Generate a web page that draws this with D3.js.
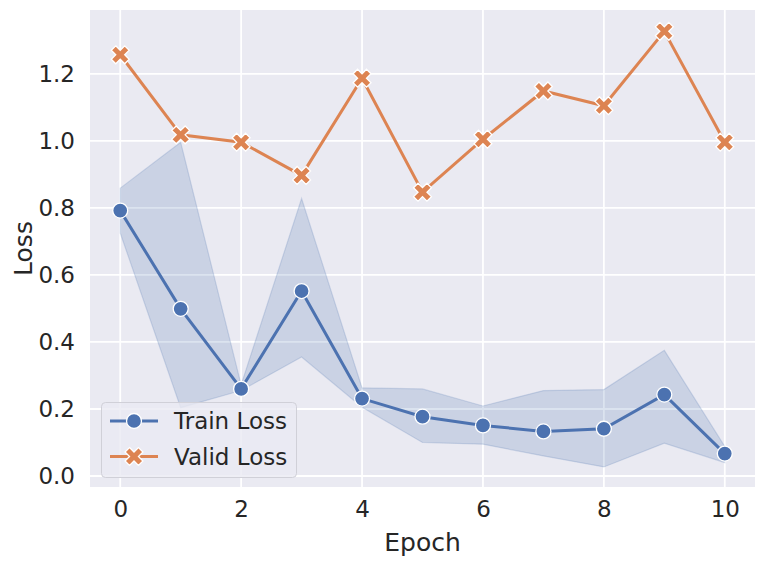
<!DOCTYPE html>
<html>
<head>
<meta charset="utf-8">
<script src="https://cdn.jsdelivr.net/npm/d3@7"></script>
<style>
  html, body { margin: 0; padding: 0; background: #ffffff; }
  svg { display: block; }
  text { font-family: "DejaVu Sans", sans-serif; fill: #262626; }
</style>
</head>
<body>
<div id="chart"></div>
<script>
// ---- data ----
const epochs = [0, 1, 2, 3, 4, 5, 6, 7, 8, 9, 10];
const trainLoss = [0.792, 0.499, 0.260, 0.552, 0.231, 0.177, 0.151, 0.133, 0.141, 0.243, 0.067];
const trainUpper = [0.859, 0.996, 0.272, 0.828, 0.263, 0.260, 0.209, 0.255, 0.258, 0.375, 0.088];
const trainLower = [0.725, 0.204, 0.255, 0.355, 0.205, 0.100, 0.095, 0.060, 0.027, 0.098, 0.040];
const validLoss = [1.257, 1.018, 0.996, 0.897, 1.187, 0.847, 1.005, 1.149, 1.105, 1.327, 0.996];
const xTicks = [0, 2, 4, 6, 8, 10];
const yTicks = [0.0, 0.2, 0.4, 0.6, 0.8, 1.0, 1.2];
const seriesNames = ["Train Loss", "Valid Loss"];
const colors = ["#4C72B0", "#DD8452"];

// ---- layout ----
const W = 766, H = 565;
const plot = { left: 90, right: 755, top: 10, bottom: 487 };

const svg = d3.select("#chart").append("svg").attr("width", W).attr("height", H);

const x = d3.scaleLinear().domain([-0.5, 10.5]).range([plot.left, plot.right]);
const y = d3.scaleLinear().domain([-0.0328, 1.3906]).range([plot.bottom, plot.top]);

// background
svg.append("rect")
  .attr("x", plot.left).attr("y", plot.top)
  .attr("width", plot.right - plot.left).attr("height", plot.bottom - plot.top)
  .attr("fill", "#EAEAF2");

// grid
const grid = svg.append("g");
grid.selectAll("line.gx").data(xTicks).join("line")
  .attr("x1", d => x(d)).attr("x2", d => x(d))
  .attr("y1", plot.top).attr("y2", plot.bottom)
  .attr("stroke", "#ffffff").attr("stroke-width", 1.8);
grid.selectAll("line.gy").data(yTicks).join("line")
  .attr("x1", plot.left).attr("x2", plot.right)
  .attr("y1", d => y(d)).attr("y2", d => y(d))
  .attr("stroke", "#ffffff").attr("stroke-width", 1.8);

// axes (labels only, no tick lines / domain)
const xAxis = d3.axisBottom(x).tickValues(xTicks).tickFormat(d3.format("d")).tickSize(0).tickPadding(14);
const gx = svg.append("g").attr("transform", `translate(0,${plot.bottom})`).call(xAxis);
gx.select(".domain").remove();
gx.selectAll("text").style("font-size", "23px").style("font-family", "DejaVu Sans").attr("fill", "#262626");

const yAxis = d3.axisLeft(y).tickValues(yTicks).tickFormat(d3.format(".1f")).tickSize(0).tickPadding(15);
const gy = svg.append("g").attr("transform", `translate(${plot.left},0)`).call(yAxis);
gy.select(".domain").remove();
gy.selectAll("text").style("font-size", "23px").style("font-family", "DejaVu Sans").attr("fill", "#262626");

// axis titles
svg.append("text")
  .attr("x", (plot.left + plot.right) / 2).attr("y", 551)
  .attr("text-anchor", "middle").style("font-size", "25px")
  .text("Epoch");
svg.append("text")
  .attr("transform", `translate(32,${(plot.top + plot.bottom) / 2}) rotate(-90)`)
  .attr("text-anchor", "middle").style("font-size", "25px")
  .text("Loss");

const plotG = svg.append("g");

// confidence band
const bandData = epochs.map((e, i) => ({ e, lo: trainLower[i], hi: trainUpper[i] }));
plotG.append("path")
  .datum(bandData)
  .attr("d", d3.area().x(d => x(d.e)).y0(d => y(d.lo)).y1(d => y(d.hi)))
  .attr("fill", colors[0]).attr("fill-opacity", 0.2)
  .attr("stroke", colors[0]).attr("stroke-opacity", 0.2).attr("stroke-width", 1.2);

const line = d3.line().x(d => x(d.e)).y(d => y(d.v));
const trainPts = epochs.map((e, i) => ({ e, v: trainLoss[i] }));
const validPts = epochs.map((e, i) => ({ e, v: validLoss[i] }));

plotG.append("path").datum(trainPts).attr("d", line)
  .attr("fill", "none").attr("stroke", colors[0]).attr("stroke-width", 3);
plotG.append("path").datum(validPts).attr("d", line)
  .attr("fill", "none").attr("stroke", colors[1]).attr("stroke-width", 3);

const xSym = d3.symbol().type(d3.symbolCross).size(200);

plotG.selectAll("circle.tr").data(trainPts).join("circle")
  .attr("cx", d => x(d.e)).attr("cy", d => y(d.v)).attr("r", 7.5)
  .attr("fill", colors[0]).attr("stroke", "#ffffff").attr("stroke-width", 1.3);

plotG.selectAll("path.va").data(validPts).join("path")
  .attr("d", xSym)
  .attr("transform", d => `translate(${x(d.e)},${y(d.v)}) rotate(45)`)
  .attr("fill", colors[1]).attr("stroke", "#ffffff").attr("stroke-width", 1.3);

// legend
const lg = svg.append("g");
lg.append("rect")
  .attr("x", 101.5).attr("y", 402.5).attr("width", 195).attr("height", 75).attr("rx", 4)
  .attr("fill", "#EAEAF2").attr("fill-opacity", 0.8)
  .attr("stroke", "#D0D0D8").attr("stroke-width", 1);

const rows = [421, 456.5];
seriesNames.forEach((name, i) => {
  const ry = rows[i];
  lg.append("line").attr("x1", 110).attr("x2", 158).attr("y1", ry).attr("y2", ry)
    .attr("stroke", colors[i]).attr("stroke-width", 3);
  if (i === 0) {
    lg.append("circle").attr("cx", 134).attr("cy", ry).attr("r", 7.5)
      .attr("fill", colors[0]).attr("stroke", "#ffffff").attr("stroke-width", 1.3);
  } else {
    lg.append("path").attr("d", xSym).attr("transform", `translate(134,${ry}) rotate(45)`)
      .attr("fill", colors[1]).attr("stroke", "#ffffff").attr("stroke-width", 1.3);
  }
  lg.append("text").attr("x", 174).attr("y", ry).attr("dy", "0.35em")
    .style("font-size", "23px").text(name);
});
</script>
</body>
</html>
